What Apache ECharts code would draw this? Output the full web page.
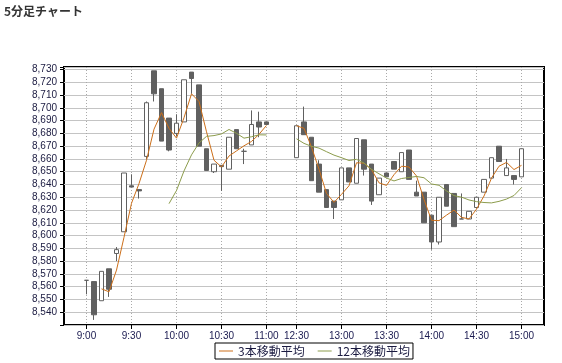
<!DOCTYPE html>
<html><head><meta charset="utf-8">
<script src="https://cdn.jsdelivr.net/npm/echarts@6/dist/echarts.min.js"></script>
<style>html,body{margin:0;padding:0;background:#fff}#c{width:562px;height:363px}</style>
</head><body><div id="c"></div>
<script>
const morningTimes = ['9:00','9:05','9:10','9:15','9:20','9:25','9:30','9:35','9:40','9:45','9:50','9:55',
  '10:00','10:05','10:10','10:15','10:20','10:25','10:30','10:35','10:40','10:45','10:50','10:55','11:00'];
const afternoonTimes = ['12:30','12:35','12:40','12:45','12:50','12:55',
  '13:00','13:05','13:10','13:15','13:20','13:25','13:30','13:35','13:40','13:45','13:50','13:55',
  '14:00','14:05','14:10','14:15','14:20','14:25','14:30','14:35','14:40','14:45','14:50','14:55','15:00'];
const tickLabels = ['9:00','9:30','10:00','10:30','11:00','12:30','13:00','13:30','14:00','14:30','15:00'];

const open  = [8565,8564,8549,8574,8586,8603,8639,8636,8662,8729,8715,8692,
  8680,8689,8728,8718,8668,8650,8655,8652,8683,8666,8671,8689,8689,
  8661,8689,8677,8656,8636,8627,
  8628,8653,8641,8675,8656,8632,8649,8658,8650,8667,8634,8634,
  8616,8595,8640,8633,8613,8613,8622,8634,8645,8670,8647,8647,8646];
const close = [8565,8538,8572,8558,8589,8649,8638,8635,8704,8711,8674,8667,
  8688,8722,8723,8670,8651,8656,8654,8677,8668,8666,8687,8685,8687,
  8686,8679,8643,8634,8622,8622,
  8653,8642,8676,8652,8627,8645,8646,8652,8665,8644,8631,8610,
  8595,8630,8623,8607,8613,8619,8630,8644,8661,8658,8653,8644,8668];
const low   = [8554,8534,8549,8552,8580,8603,8638,8629,8660,8705,8674,8666,
  8678,8689,8711,8670,8651,8649,8635,8652,8668,8656,8671,8677,8687,
  8661,8679,8643,8634,8622,8613,
  8628,8642,8641,8647,8624,8632,8646,8652,8650,8644,8631,8610,
  8589,8593,8623,8607,8613,8613,8622,8634,8645,8658,8647,8640,8646];
const high  = [8565,8564,8572,8574,8591,8649,8648,8636,8705,8729,8715,8692,
  8695,8722,8728,8718,8668,8656,8655,8677,8683,8668,8698,8697,8689,
  8686,8701,8677,8659,8636,8627,
  8653,8653,8676,8675,8656,8645,8649,8658,8665,8667,8643,8634,
  8616,8630,8640,8633,8633,8619,8630,8644,8661,8670,8660,8647,8668];

const ma3 = ['-','-',8558.3,8556.0,8573.0,8598.7,8625.3,8640.7,8659.0,8683.3,8696.3,8684.0,
  8676.3,8692.3,8711.0,8705.0,8681.3,8659.0,8653.7,8662.3,8666.3,8670.3,8673.7,8679.3,8686.3,
  8686.0,8684.0,8669.3,8652.0,8633.0,8626.0,
  8632.3,8639.0,8657.0,8656.7,8651.7,8641.3,8639.3,8647.7,8654.3,8653.7,8646.7,8628.3,
  8612.0,8611.7,8616.0,8620.0,8614.3,8613.0,8620.7,8631.0,8645.0,8654.3,8657.3,8651.7,8655.0];
const ma12 = ['-','-','-','-','-','-','-','-','-','-','-',8625.0,
  8635.3,8650.6,8663.2,8672.5,8677.7,8678.3,8679.6,8683.1,8680.1,8676.3,8677.4,8678.9,8678.8,
  8675.8,8672.2,8669.9,8668.5,8665.7,8663.0,
  8661.0,8658.8,8659.7,8656.8,8651.9,8648.4,8645.1,8642.8,8644.7,8645.5,8646.3,8645.3,
  8640.4,8639.4,8635.0,8631.3,8630.1,8627.9,8626.6,8625.9,8625.6,8626.8,8628.6,8631.4,8637.5];

const categories = [], candle = [], l3 = [], l12 = [];
function pushPad(n, tag) {
  for (let k = 0; k < n; k++) { categories.push(tag + k); candle.push(['-','-','-','-']); l3.push('-'); l12.push('-'); }
}
function pushData(times, offset) {
  times.forEach((t, k) => {
    const i = offset + k;
    categories.push(t);
    candle.push([open[i], close[i], low[i], high[i]]);
    l3.push(ma3[i]); l12.push(ma12[i]);
  });
}
pushPad(3, '_s'); pushData(morningTimes, 0); pushPad(3, '_g'); pushData(afternoonTimes, morningTimes.length); pushPad(3, '_e');

const isTick = (idx, val) => tickLabels.indexOf(val) >= 0;
const fmt = v => {
  if (v % 10 !== 0 || v < 8540 || v > 8730) return '';
  const s = String(v);
  return s.slice(0, s.length - 3) + ',' + s.slice(s.length - 3);
};

const chart = echarts.init(document.getElementById('c'), null, {renderer: 'canvas'});
chart.setOption({
  animation: false,
  backgroundColor: '#fff',
  title: {text: '5分足チャート', left: 4, top: 5, padding: 0,
    textStyle: {fontSize: 12, fontWeight: 'bold', color: '#333', fontFamily: 'Noto Sans CJK JP'}},
  legend: {left: 215, top: 343, padding: [2, 3, 2, 4], itemGap: 13, itemWidth: 14, itemHeight: 1,
    icon: 'rect', borderColor: '#000', borderWidth: 1, borderRadius: 0, backgroundColor: '#fff',
    textStyle: {fontSize: 12, color: '#1a1a40', fontFamily: 'Noto Sans CJK JP'},
    data: ['3本移動平均', '12本移動平均']},
  grid: {left: 64, top: 67, width: 480, height: 258, show: true, borderColor: '#000', borderWidth: 2,
    backgroundColor: '#fff', containLabel: false, outerBoundsMode: 'none'},
  xAxis: {type: 'category', data: categories, boundaryGap: false,
    axisLine: {show: false},
    axisTick: {show: true, interval: isTick, length: 4, lineStyle: {color: '#000'}},
    axisLabel: {interval: isTick, margin: 6, fontSize: 10, color: '#1a1a50', fontFamily: 'Liberation Sans'},
    splitLine: {show: true, interval: isTick, lineStyle: {color: '#aaaaaa', type: [1, 2]}}},
  yAxis: {type: 'value', min: 8530, max: 8732, interval: 10,
    axisLine: {show: false},
    axisTick: {show: true, length: 4, lineStyle: {color: '#000'}},
    axisLabel: {margin: 7, fontSize: 10, color: '#1a1a40', fontFamily: 'Liberation Sans', formatter: fmt},
    splitLine: {show: true, lineStyle: {color: '#c4c4c4', width: 1}}},
  series: [
    {type: 'candlestick', data: candle, barWidth: 5,
      itemStyle: {color: '#ffffff', color0: '#606060', borderColor: '#606060', borderColor0: '#606060',
        borderColorDoji: '#606060', borderWidth: 1}},
    {name: '3本移動平均', type: 'line', data: l3, symbol: 'none', showSymbol: false, connectNulls: false,
      lineStyle: {color: '#cc6f1a', width: 1}, itemStyle: {color: '#cc6f1a'}, z: 3},
    {name: '12本移動平均', type: 'line', data: l12, symbol: 'none', showSymbol: false, connectNulls: false,
      lineStyle: {color: '#8c9c4c', width: 1}, itemStyle: {color: '#8c9c4c'}, z: 3}
  ]
});
</script>
</body></html>
